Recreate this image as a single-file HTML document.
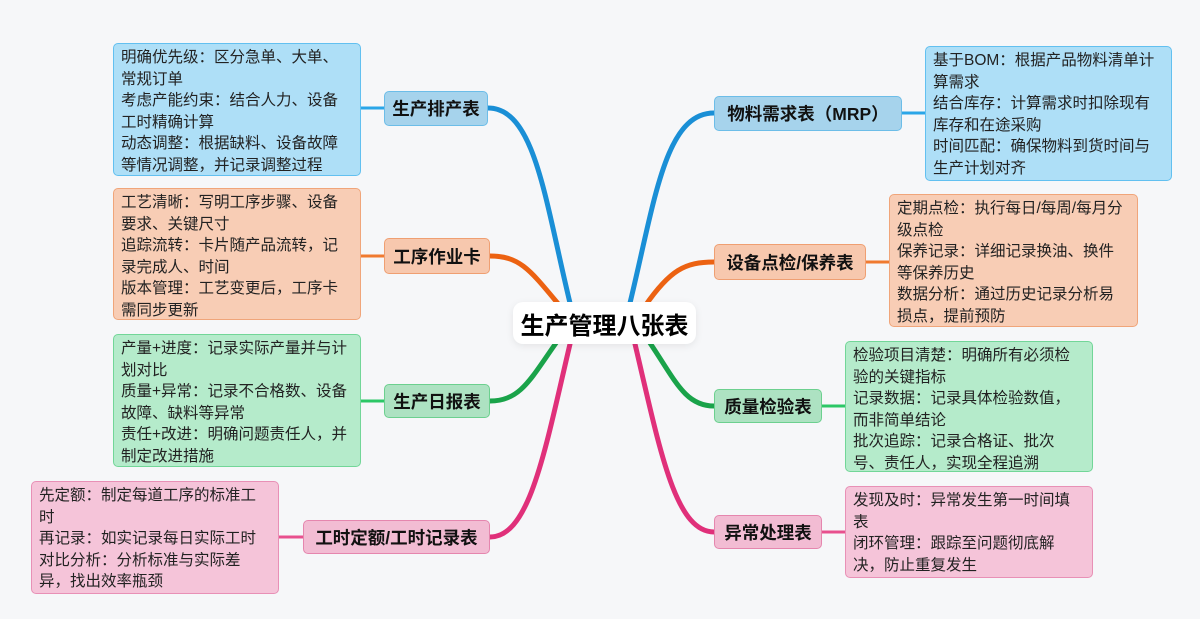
<!DOCTYPE html>
<html><head><meta charset="utf-8"><style>
body{margin:0;width:1200px;height:619px;background:#f6f7f9;position:relative;overflow:hidden;font-family:"Liberation Sans","Noto Sans CJK SC",sans-serif;}
.d{position:absolute;box-sizing:border-box;border:1.5px solid;border-radius:5px;padding:3px 7px;font-size:15.5px;line-height:21.5px;color:#222;white-space:nowrap;}
.n{position:absolute;box-sizing:border-box;border:1.5px solid;border-radius:5px;font-size:17.5px;font-weight:bold;color:#111;display:flex;align-items:center;justify-content:center;white-space:nowrap;}
.b{background:#aedff7;border-color:#62c0f0}.nb{background:#a6d3ec;border-color:#6cbde8}
.o{background:#f8cdb5;border-color:#f0a57a}.no{background:#f7c8ae;border-color:#ef9f72}
.g{background:#b5ebcb;border-color:#72d698}.ng{background:#ade2c2;border-color:#6cd08f}
.p{background:#f5c4d9;border-color:#e890b6}.np{background:#f2bcd3;border-color:#e586ae}
.c{position:absolute;left:513px;top:302px;width:183px;height:42px;background:#fff;border-radius:10px;box-shadow:0 2px 8px rgba(0,0,0,.08);font-size:24px;font-weight:bold;display:flex;align-items:center;justify-content:center;}
</style></head><body>
<svg width="1200" height="619" style="position:absolute;left:0;top:0" fill="none" stroke-linecap="round">
<g stroke-width="5">
<path d="M570 303 C545 200,535 108,488 108" stroke="#1a8fd6"/>
<path d="M560 306 C530 270,520 256,490 256" stroke="#ec6212"/>
<path d="M556 343 C530 380,520 401,490 401" stroke="#1aa34a"/>
<path d="M570 344 C545 450,530 537,490 537" stroke="#e0307a"/>
<path d="M630 303 C655 200,665 113,714 113" stroke="#1a8fd6"/>
<path d="M645 306 C670 270,685 262,714 262" stroke="#ec6212"/>
<path d="M650 343 C675 380,685 406,714 406" stroke="#1aa34a"/>
<path d="M635 344 C660 450,675 532,714 532" stroke="#e0307a"/>
</g>
<g stroke-width="3">
<path d="M361 108H384" stroke="#2aa6e8"/><path d="M361 256H384" stroke="#f07a30"/>
<path d="M361 401H384" stroke="#2cc766"/><path d="M279 537H303" stroke="#e8508e"/>
<path d="M902 113H925" stroke="#2aa6e8"/><path d="M866 262H889" stroke="#f07a30"/>
<path d="M822 406H845" stroke="#2cc766"/><path d="M822 532H845" stroke="#e8508e"/>
</g></svg>
<div class="c">生产管理八张表</div>
<div class="n nb" style="left:384px;top:91px;width:104px;height:35px">生产排产表</div>
<div class="d b" style="left:113px;top:43px;width:248px;height:133px">明确优先级：区分急单、大单、<br>常规订单<br>考虑产能约束：结合人力、设备<br>工时精确计算<br>动态调整：根据缺料、设备故障<br>等情况调整，并记录调整过程</div>
<div class="n no" style="left:384px;top:238px;width:106px;height:36px">工序作业卡</div>
<div class="d o" style="left:113px;top:188px;width:248px;height:132px">工艺清晰：写明工序步骤、设备<br>要求、关键尺寸<br>追踪流转：卡片随产品流转，记<br>录完成人、时间<br>版本管理：工艺变更后，工序卡<br>需同步更新</div>
<div class="n ng" style="left:384px;top:384px;width:106px;height:34px">生产日报表</div>
<div class="d g" style="left:113px;top:334px;width:248px;height:133px">产量+进度：记录实际产量并与计<br>划对比<br>质量+异常：记录不合格数、设备<br>故障、缺料等异常<br>责任+改进：明确问题责任人，并<br>制定改进措施</div>
<div class="n np" style="left:303px;top:520px;width:187px;height:34px">工时定额/工时记录表</div>
<div class="d p" style="left:31px;top:481px;width:248px;height:113px">先定额：制定每道工序的标准工<br>时<br>再记录：如实记录每日实际工时<br>对比分析：分析标准与实际差<br>异，找出效率瓶颈</div>
<div class="n nb" style="left:714px;top:96px;width:188px;height:35px">物料需求表（MRP）</div>
<div class="d b" style="left:925px;top:46px;width:247px;height:135px">基于BOM：根据产品物料清单计<br>算需求<br>结合库存：计算需求时扣除现有<br>库存和在途采购<br>时间匹配：确保物料到货时间与<br>生产计划对齐</div>
<div class="n no" style="left:714px;top:244px;width:152px;height:36px">设备点检/保养表</div>
<div class="d o" style="left:889px;top:194px;width:249px;height:133px">定期点检：执行每日/每周/每月分<br>级点检<br>保养记录：详细记录换油、换件<br>等保养历史<br>数据分析：通过历史记录分析易<br>损点，提前预防</div>
<div class="n ng" style="left:714px;top:389px;width:108px;height:34px">质量检验表</div>
<div class="d g" style="left:845px;top:341px;width:248px;height:131px">检验项目清楚：明确所有必须检<br>验的关键指标<br>记录数据：记录具体检验数值，<br>而非简单结论<br>批次追踪：记录合格证、批次<br>号、责任人，实现全程追溯</div>
<div class="n np" style="left:714px;top:515px;width:108px;height:34px">异常处理表</div>
<div class="d p" style="left:845px;top:486px;width:248px;height:92px">发现及时：异常发生第一时间填<br>表<br>闭环管理：跟踪至问题彻底解<br>决，防止重复发生</div>
</body></html>
